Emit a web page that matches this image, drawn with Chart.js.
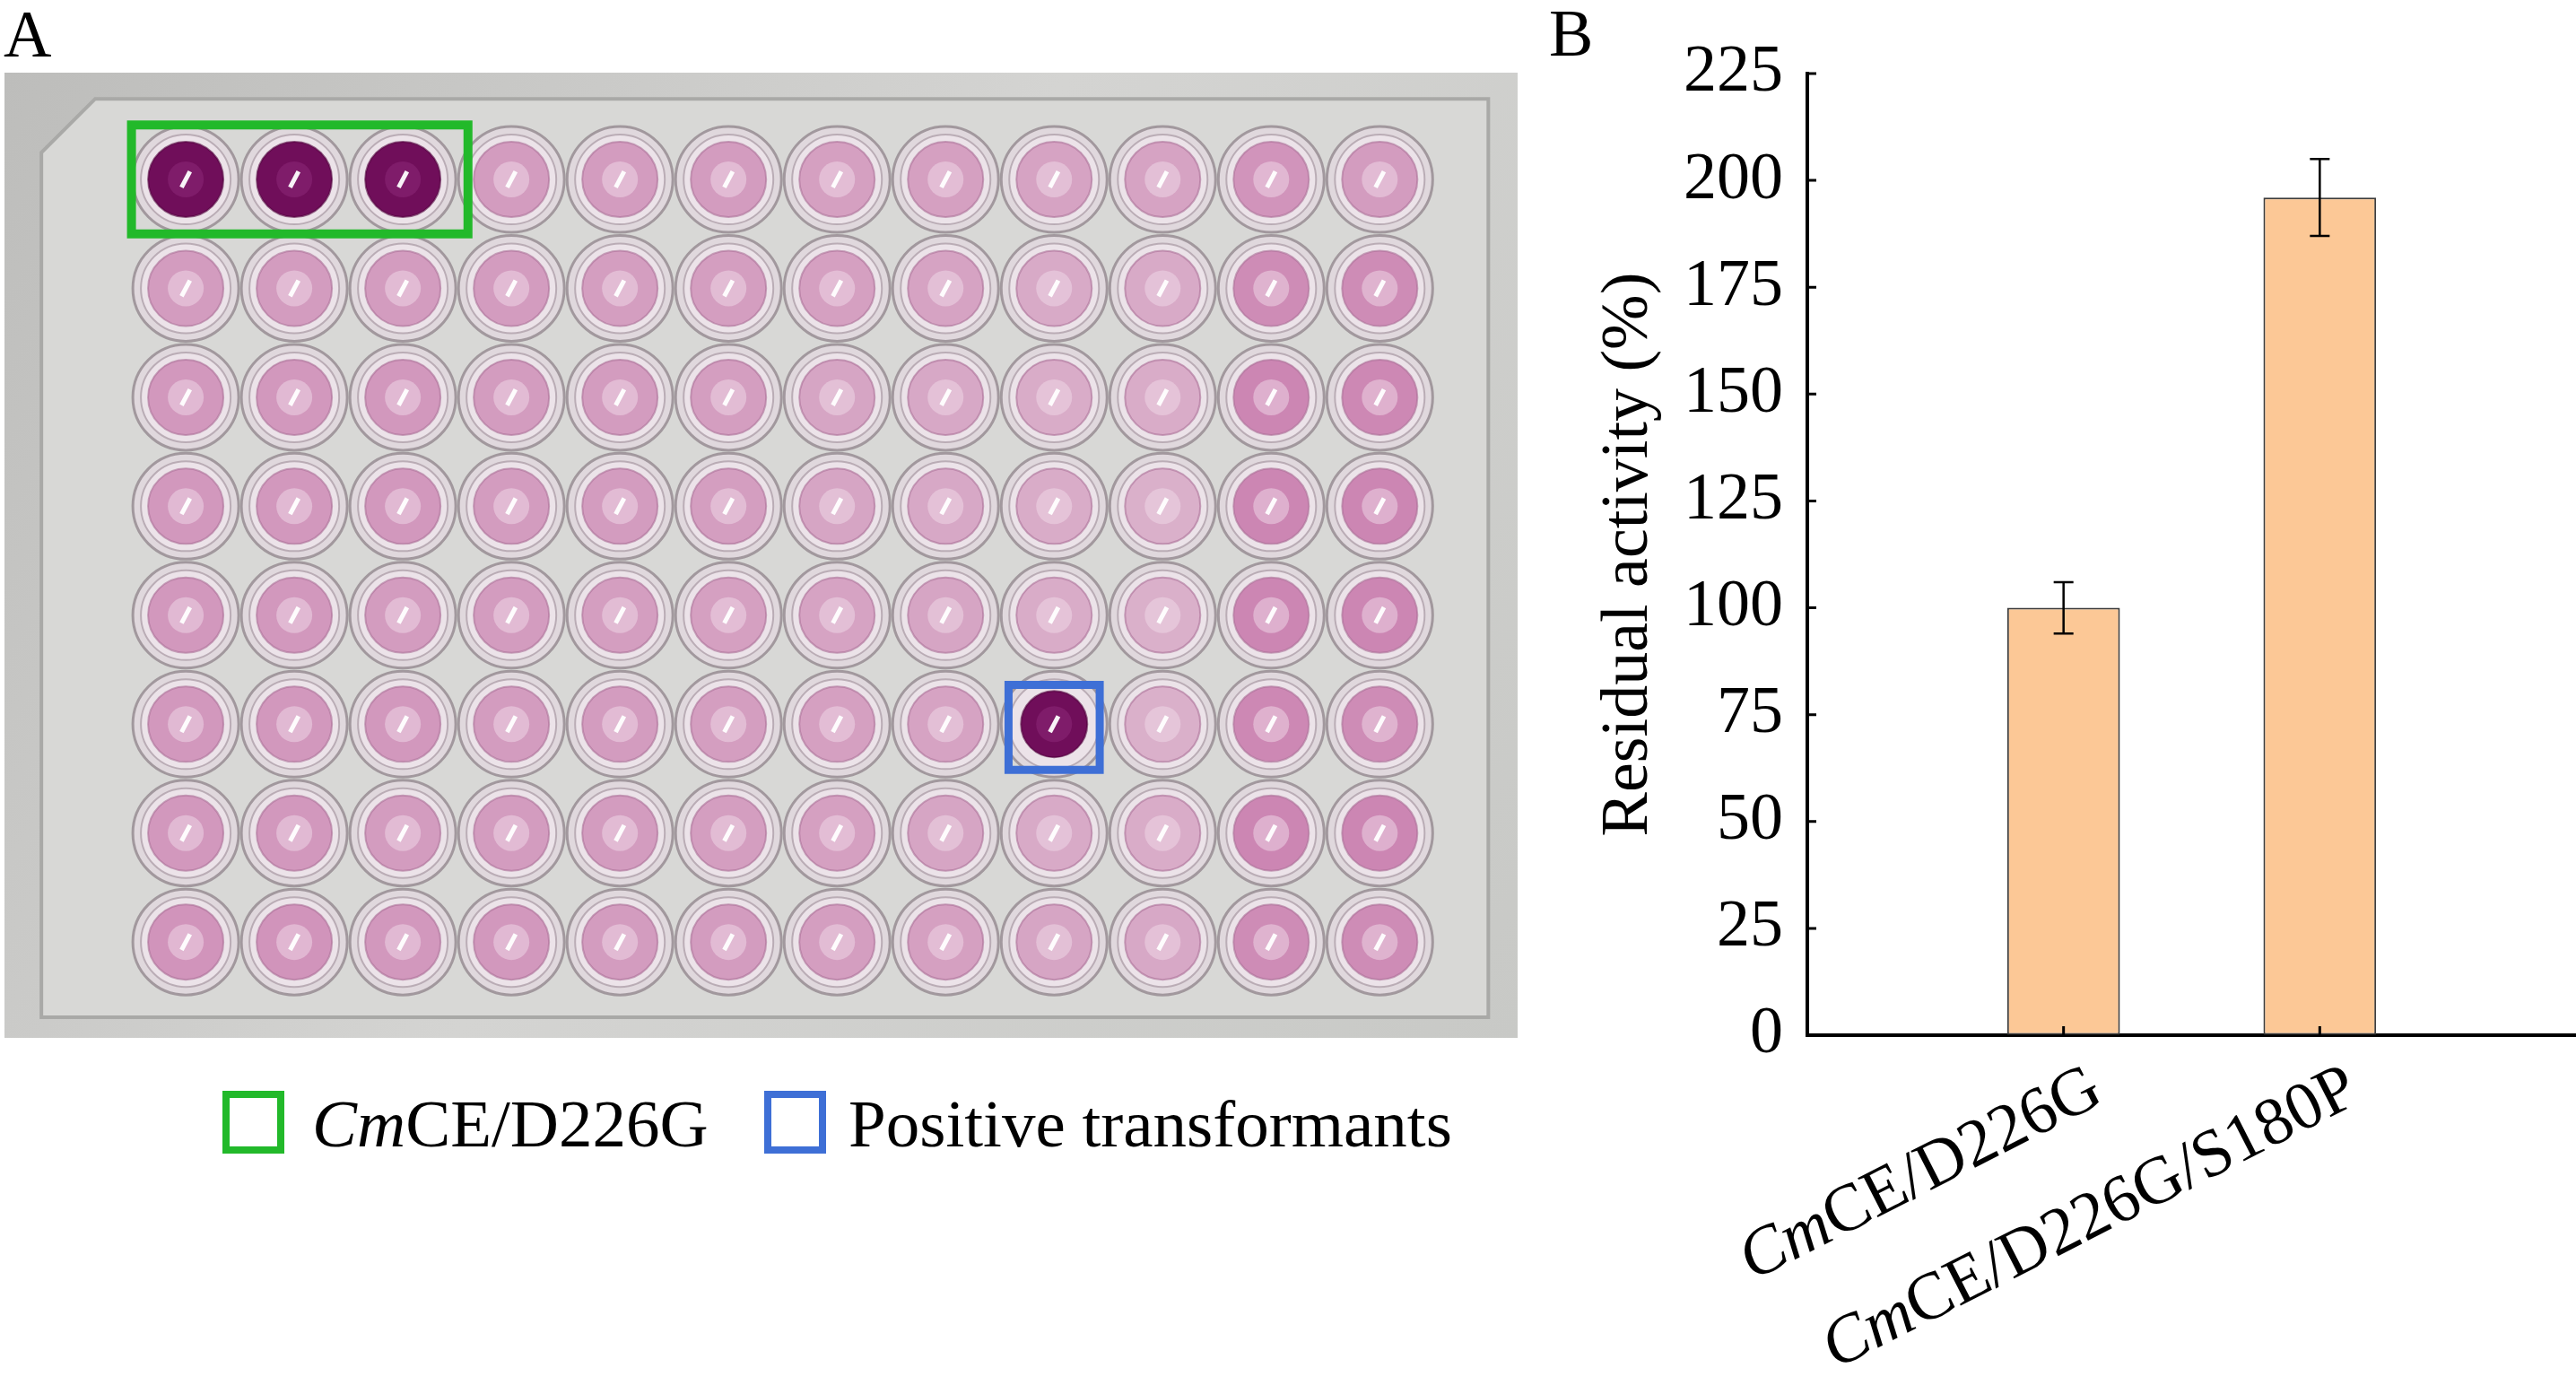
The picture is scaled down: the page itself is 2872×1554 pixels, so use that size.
<!DOCTYPE html>
<html>
<head>
<meta charset="utf-8">
<title>CmCE/D226G screening</title>
<script src="https://cdn.jsdelivr.net/npm/chart.js@4.4.0/dist/chart.umd.min.js"></script>
<style>
  html, body { margin: 0; padding: 0; background: #fff; overflow: hidden; }
  #page { position: relative; width: 2872px; height: 1554px; font-family: 'Liberation Serif', 'Times New Roman', serif; color: #000; }
  .panel { position: absolute; }
  .letter { position: absolute; font-size: 74px; line-height: 74px; }
  .legend { position: absolute; top: 1215px; font-size: 75px; line-height: 75px; white-space: nowrap; }
  .swatch { position: absolute; box-sizing: border-box; width: 69px; height: 70px; border: 8px solid; background: #fff; }
</style>
</head>
<body>
<div id="page">
  <div class="letter" style="left:4px; top:1px;">A</div>
  <div class="letter" style="left:1727px; top:0px;">B</div>

  <div class="panel" style="left:0; top:0; width:1700px; height:1554px;"><canvas id="plate"></canvas></div>
  <div class="panel" style="left:1700px; top:0; width:1172px; height:1554px;"><canvas id="bars"></canvas></div>

  <div class="swatch" style="left:248px; top:1216px; border-color:#22b92a;"></div>
  <div class="legend" style="left:348px;"><i>Cm</i>CE/D226G</div>
  <div class="swatch" style="left:852px; top:1216px; border-color:#3e6fd6;"></div>
  <div class="legend" style="left:946px;">Positive transformants</div>
</div>

<script>
// ==============================
// Datos
// ==============================
// Placa de 96 pocillos: nivel de color de cada pocillo (0 = rosa claro ... 0.7 = rosa intenso, 1 = morado)
const plateRows = [1, 2, 3, 4, 5, 6, 7, 8];
const plateCols = [1, 2, 3, 4, 5, 6, 7, 8, 9, 10, 11, 12];
const wellLevel = [
  [1,   1,   1,   .42, .42, .42, .38, .38, .36, .36, .48, .42],
  [.42, .42, .42, .42, .40, .40, .38, .36, .30, .30, .55, .55],
  [.45, .45, .45, .42, .42, .40, .34, .32, .28, .28, .60, .58],
  [.45, .45, .45, .42, .42, .40, .34, .32, .28, .25, .60, .60],
  [.45, .45, .42, .42, .40, .38, .36, .34, .28, .25, .60, .60],
  [.45, .45, .45, .42, .42, .40, .38, .36, 1,   .25, .58, .55],
  [.45, .45, .42, .42, .42, .40, .38, .34, .30, .28, .60, .60],
  [.48, .48, .45, .45, .42, .42, .40, .38, .34, .32, .55, .55]
];
// recuadros: control (verde) y transformante positivo (azul)
const controlBox = { label: 'CmCE/D226G', rows: [1, 1], cols: [1, 3] };
const positiveBox = { label: 'Positive transformants', rows: [6, 6], cols: [9, 9] };

// Actividad residual
const categories = ['', 'CmCE/D226G', 'CmCE/D226G/S180P', ''];
const activity = [null, 100, 196, null];
const activityErr = [null, 6, 9, null];
const yTicks = [0, 25, 50, 75, 100, 125, 150, 175, 200, 225];

// ==============================
// Utilidades
// ==============================
const SERIF = "'Liberation Serif', 'Times New Roman', serif";
Chart.defaults.font.family = SERIF;
Chart.defaults.color = '#000';

const mix = (a, b, t) => a.map((v, i) => Math.round(v + (b[i] - v) * t));
const rgb = (c) => `rgb(${c.join(',')})`;
const PINK_LIGHT = [228, 206, 219];
const PINK_STRONG = [200, 122, 172];
const PURPLE = [112, 14, 90];

function liquidColor(v) {
  if (v >= 0.95) return rgb(PURPLE);
  return rgb(mix(PINK_LIGHT, PINK_STRONG, Math.min(1, v / 0.7)));
}
function coreColor(v) {
  if (v >= 0.95) return rgb(mix(PURPLE, [150, 50, 130], 0.4));
  return rgb(mix(mix(PINK_LIGHT, PINK_STRONG, Math.min(1, v / 0.7)), [240, 218, 232], 0.5));
}

// ==============================
// Panel A: placa
// ==============================
const wells = [];
plateRows.forEach((r, ri) => plateCols.forEach((c, ci) => wells.push({ x: c, y: r, v: wellLevel[ri][ci] })));
const pts = () => wells.map(w => ({ x: w.x, y: w.y }));

const plateBackground = {
  id: 'plateBackground',
  beforeDatasetsDraw(chart) {
    const { ctx, chartArea: a, scales: { x, y } } = chart;
    ctx.save();
    const g = ctx.createLinearGradient(a.left, a.top, a.right, a.bottom);
    g.addColorStop(0, '#bdbdbb');
    g.addColorStop(0.5, '#d4d4d2');
    g.addColorStop(1, '#c8c9c6');
    ctx.fillStyle = g;
    ctx.fillRect(a.left, a.top, a.right - a.left, a.bottom - a.top);
    // borde interior de la placa
    const l = x.getPixelForValue(-0.33), r = x.getPixelForValue(13.0);
    const t = y.getPixelForValue(0.26), b = y.getPixelForValue(8.69);
    ctx.fillStyle = '#d8d8d6';
    ctx.strokeStyle = '#a9a9a7';
    ctx.lineWidth = 4;
    ctx.beginPath();
    ctx.moveTo(l + 60, t);
    ctx.lineTo(r, t);
    ctx.lineTo(r, b);
    ctx.lineTo(l, b);
    ctx.lineTo(l, t + 60);
    ctx.closePath();
    ctx.fill();
    ctx.stroke();
    ctx.restore();
  }
};

const wellBoxes = {
  id: 'wellBoxes',
  afterDatasetsDraw(chart) {
    const { ctx, scales: { x, y } } = chart;
    const draw = (box, color, pad, lw) => {
      const l = x.getPixelForValue(box.cols[0] - pad[0]);
      const r = x.getPixelForValue(box.cols[1] + pad[1]);
      const t = y.getPixelForValue(box.rows[0] - pad[2]);
      const b = y.getPixelForValue(box.rows[1] + pad[3]);
      ctx.save();
      ctx.strokeStyle = color;
      ctx.lineWidth = lw;
      ctx.strokeRect(l, t, r - l, b - t);
      ctx.restore();
    };
    draw(controlBox, '#22b92a', [0.5, 0.6, 0.5, 0.5], 10);
    draw(positiveBox, '#3e6fd6', [0.42, 0.42, 0.36, 0.42], 9);
  }
};

// Chart.js dibuja el primer dataset encima: el orden va de arriba (brillo) a abajo (borde)
new Chart(document.getElementById('plate'), {
  type: 'scatter',
  data: {
    datasets: [
      {
        label: 'glint',
        data: pts(),
        pointStyle: 'line',
        pointRotation: -62,
        pointRadius: 10,
        pointBorderColor: 'rgba(255,255,255,0.95)',
        pointBorderWidth: 5
      },
      {
        label: 'core',
        data: pts(),
        pointRadius: 20,
        pointBackgroundColor: wells.map(w => coreColor(w.v)),
        pointBorderWidth: 0
      },
      {
        label: 'liquid',
        data: pts(),
        pointRadius: wells.map(w => w.v >= 0.95 ? (w.x === 9 ? 37 : 42) : 42),
        pointBackgroundColor: wells.map(w => liquidColor(w.v)),
        pointBorderColor: wells.map(w => w.v >= 0.95 ? 'rgba(80,0,60,0.6)' : 'rgba(170,110,150,0.6)'),
        pointBorderWidth: 2
      },
      {
        label: 'ring',
        data: pts(),
        pointRadius: 50,
        pointBackgroundColor: 'rgba(236,228,233,0.95)',
        pointBorderColor: 'rgba(175,160,170,0.8)',
        pointBorderWidth: 2
      },
      {
        label: 'rim',
        data: pts(),
        pointRadius: 59,
        pointBackgroundColor: 'rgba(224,216,221,0.95)',
        pointBorderColor: 'rgba(155,145,151,0.9)',
        pointBorderWidth: 3
      }
    ]
  },
  options: {
    responsive: true,
    maintainAspectRatio: false,
    devicePixelRatio: 1,
    animation: false,
    layout: { autoPadding: false, padding: { left: 5, top: 81, right: 8, bottom: 397 } },
    scales: {
      x: { type: 'linear', display: false, min: -0.67, max: 13.27 },
      y: { type: 'linear', display: false, min: 0.02, max: 8.88, reverse: true }
    },
    plugins: { legend: { display: false }, tooltip: { enabled: false } },
    events: []
  },
  plugins: [plateBackground, wellBoxes]
});

// ==============================
// Panel B: barras
// ==============================
const errorBars = {
  id: 'errorBars',
  afterDatasetsDraw(chart) {
    const { ctx, scales: { y } } = chart;
    const meta = chart.getDatasetMeta(0);
    ctx.save();
    ctx.strokeStyle = '#000';
    ctx.lineWidth = 2.5;
    meta.data.forEach((bar, i) => {
      const v = activity[i], e = activityErr[i];
      if (v == null || e == null) return;
      const yTop = y.getPixelForValue(v + e), yBot = y.getPixelForValue(v - e);
      const cap = 11;
      ctx.beginPath();
      ctx.moveTo(bar.x, yTop); ctx.lineTo(bar.x, yBot);
      ctx.moveTo(bar.x - cap, yTop); ctx.lineTo(bar.x + cap, yTop);
      ctx.moveTo(bar.x - cap, yBot); ctx.lineTo(bar.x + cap, yBot);
      ctx.stroke();
    });
    ctx.restore();
  }
};

// marcas hacia dentro y etiquetas inclinadas con "Cm" en cursiva
const axisDecor = {
  id: 'axisDecor',
  afterDraw(chart) {
    const { ctx, scales: { x, y } } = chart;
    const x0 = x.left, y0 = y.bottom;
    ctx.save();
    ctx.strokeStyle = '#000';
    ctx.lineWidth = 3;
    ctx.beginPath();
    yTicks.forEach(t => {
      if (t === 0) return;
      const py = y.getPixelForValue(t);
      ctx.moveTo(x0, py); ctx.lineTo(x0 + 10, py);
    });
    categories.forEach((c, i) => {
      if (!c) return;
      const px = x.getPixelForValue(i);
      ctx.moveTo(px, y0); ctx.lineTo(px, y0 - 10);
    });
    ctx.stroke();

    const size = 75;
    const italic = `italic ${size}px ${SERIF}`;
    const normal = `${size}px ${SERIF}`;
    const angle = 27 * Math.PI / 180;
    categories.forEach((c, i) => {
      if (!c) return;
      const head = c.startsWith('Cm') ? 'Cm' : '';
      const rest = c.slice(head.length);
      ctx.font = italic; const wHead = ctx.measureText(head).width;
      ctx.font = normal; const wRest = ctx.measureText(rest).width;
      const px = x.getPixelForValue(i);
      ctx.save();
      ctx.translate(px + 38, y0 + 56);
      ctx.rotate(-angle);
      ctx.fillStyle = '#000';
      ctx.textAlign = 'left';
      ctx.textBaseline = 'middle';
      ctx.font = italic; ctx.fillText(head, -(wHead + wRest), 0);
      ctx.font = normal; ctx.fillText(rest, -wRest, 0);
      ctx.restore();
    });
    ctx.restore();
  }
};

new Chart(document.getElementById('bars'), {
  type: 'bar',
  data: {
    labels: categories,
    datasets: [{
      label: 'Residual activity (%)',
      data: activity,
      backgroundColor: '#fcc896',
      borderColor: '#3c3c3c',
      borderWidth: 2,
      borderSkipped: false,
      barPercentage: 0.44,
      categoryPercentage: 1
    }]
  },
  options: {
    responsive: true,
    maintainAspectRatio: false,
    devicePixelRatio: 1,
    animation: false,
    layout: { padding: { left: 0, top: 82, right: 0, bottom: 400 } },
    scales: {
      x: {
        type: 'category',
        offset: false,
        grid: { display: true, drawOnChartArea: false, drawTicks: false },
        border: { display: true, color: '#000', width: 4 },
        ticks: { display: false }
      },
      y: {
        min: 0,
        max: 225,
        afterBuildTicks: (s) => { s.ticks = yTicks.map(v => ({ value: v })); },
        afterFit: (s) => { s.width = 315; },
        grid: { display: true, drawOnChartArea: false, drawTicks: false },
        border: { display: true, color: '#000', width: 4 },
        ticks: { font: { size: 74 }, color: '#000', padding: 27 },
        title: {
          display: true,
          text: 'Residual activity (%)',
          font: { size: 74 },
          color: '#000',
          padding: { top: 72, bottom: 0 }
        }
      }
    },
    plugins: { legend: { display: false }, tooltip: { enabled: false } },
    events: []
  },
  plugins: [errorBars, axisDecor]
});
</script>
</body>
</html>
